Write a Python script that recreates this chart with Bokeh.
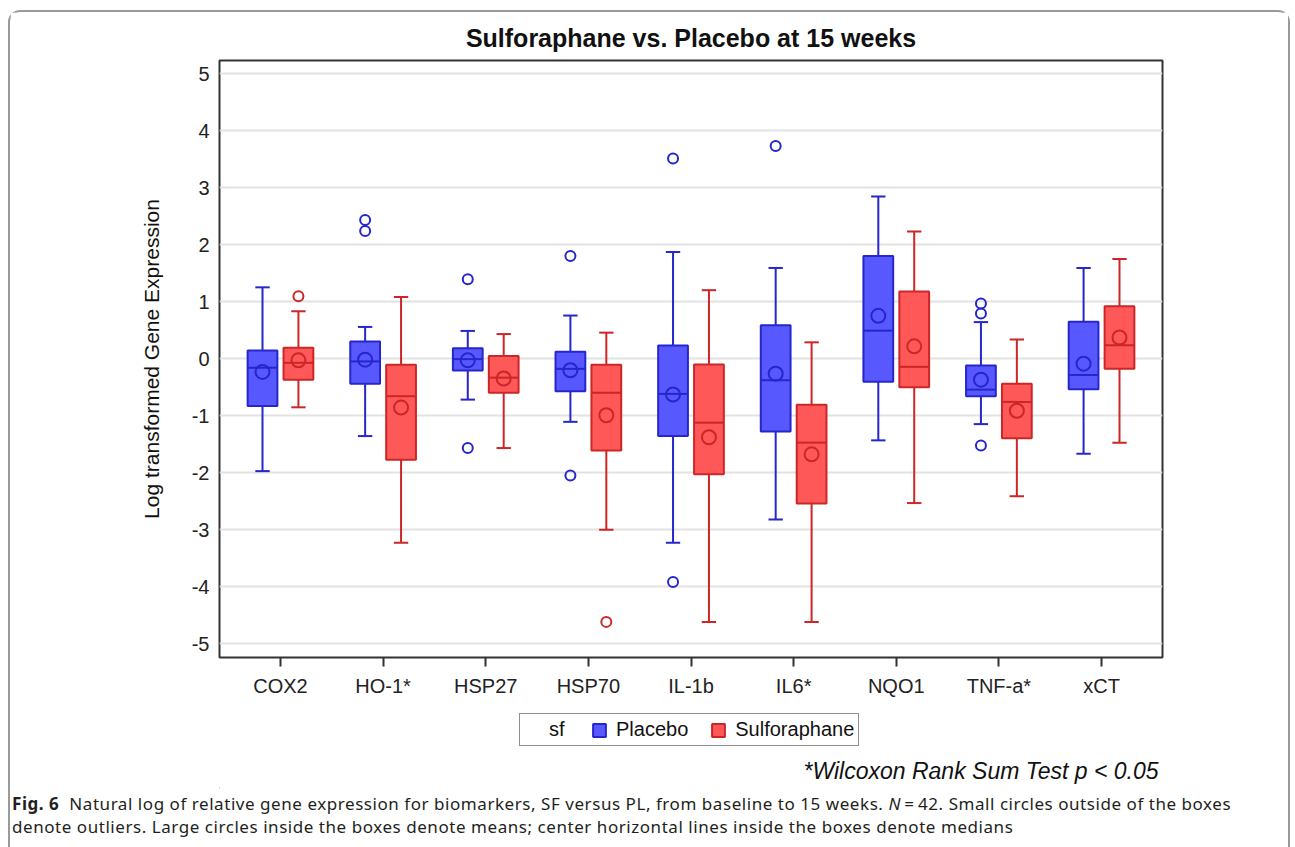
from bokeh.plotting import figure
from bokeh.models import (Range1d, FixedTicker, Legend, LegendItem, Label, Div,
                          ColumnDataSource)
from bokeh.layouts import column
from bokeh.embed import file_html
from bokeh.resources import INLINE

# ---------------- data ----------------
genes = ["COX2", "HO-1*", "HSP27", "HSP70", "IL-1b", "IL6*", "NQO1", "TNF-a*", "xCT"]
groups = ["Placebo", "Sulforaphane"]

pl_lo   = [-1.975, -1.36, -0.72, -1.11, -3.23, -2.825, -1.435, -1.15, -1.67]
pl_q1   = [-0.83, -0.44, -0.21, -0.575, -1.36, -1.28, -0.405, -0.66, -0.54]
pl_med  = [-0.16, -0.05, -0.01, -0.18, -0.62, -0.38, 0.49, -0.545, -0.29]
pl_q3   = [0.14, 0.30, 0.18, 0.12, 0.23, 0.585, 1.80, -0.12, 0.645]
pl_hi   = [1.25, 0.555, 0.485, 0.755, 1.87, 1.59, 2.845, 0.64, 1.59]
pl_mean = [-0.235, -0.02, -0.03, -0.205, -0.63, -0.265, 0.75, -0.37, -0.09]

sf_lo   = [-0.855, -3.23, -1.57, -3.005, -4.62, -4.62, -2.535, -2.415, -1.475]
sf_q1   = [-0.37, -1.775, -0.60, -1.615, -2.03, -2.545, -0.505, -1.40, -0.18]
sf_med  = [-0.075, -0.66, -0.335, -0.60, -1.125, -1.475, -0.145, -0.76, 0.235]
sf_q3   = [0.19, -0.11, 0.045, -0.11, -0.105, -0.81, 1.175, -0.44, 0.92]
sf_hi   = [0.83, 1.08, 0.43, 0.455, 1.20, 0.285, 2.23, 0.335, 1.745]
sf_mean = [-0.03, -0.86, -0.35, -0.995, -1.38, -1.68, 0.215, -0.915, 0.37]

pl_out_gene = ["HO-1*", "HO-1*", "HSP27", "HSP27", "HSP70", "HSP70",
               "IL-1b", "IL-1b", "IL6*", "TNF-a*", "TNF-a*", "TNF-a*"]
pl_out_val  = [2.43, 2.24, 1.39, -1.57, 1.80, -2.05, 3.51, -3.92, 3.73, 0.965, 0.79, -1.525]
sf_out_gene = ["COX2", "HSP70"]
sf_out_val  = [1.095, -4.62]

y_ticks = [-5, -4, -3, -2, -1, 0, 1, 2, 3, 4, 5]

title_text = "Sulforaphane vs. Placebo at 15 weeks"
y_label = "Log transformed Gene Expression"
legend_title = "sf"
footnote = "*Wilcoxon Rank Sum Test p < 0.05"

# ---------------- styling ----------------
FONT = "Liberation Sans"
fills = {"Placebo": "#5858FF", "Sulforaphane": "#FF5858"}
lines = {"Placebo": "#2626CC", "Sulforaphane": "#CC2626"}
offsets = {"Placebo": -0.175, "Sulforaphane": 0.175}
BOX_W = 0.29
CAP_W = 0.14

fig = figure(frame_width=943, frame_height=597, output_backend="svg", toolbar_location=None,
             x_range=Range1d(0.406, 9.594), y_range=Range1d(-5.245, 5.23),
             min_border_left=209, min_border_right=126, min_border_top=48,
             min_border_bottom=52, background_fill_color="white",
             border_fill_color="white")
fig.outline_line_color = "#333333"
fig.outline_line_width = 2

fig.title.text = title_text
fig.title.align = "center"
fig.title.text_font = FONT
fig.title.text_font_size = "25px"
fig.title.text_font_style = "bold"
fig.title.text_color = "#111111"
fig.title.standoff = 18

fig.xgrid.grid_line_color = None
fig.ygrid.grid_line_color = "#E2E2E2"
fig.ygrid.grid_line_width = 2

fig.xaxis.ticker = FixedTicker(ticks=[i + 1 for i in range(len(genes))])
fig.xaxis.major_label_overrides = {i + 1: g for i, g in enumerate(genes)}
fig.yaxis.ticker = FixedTicker(ticks=y_ticks)
fig.yaxis.major_label_overrides = {t: str(t) for t in y_ticks}

for ax in (fig.xaxis, fig.yaxis):
    ax.axis_line_color = None
    ax.minor_tick_line_color = None
    ax.major_tick_in = 0
    ax.major_label_text_font = FONT
    ax.major_label_text_font_size = "20px"
    ax.major_label_text_color = "#222222"
    ax.major_tick_line_color = "#333333"
    ax.major_tick_line_width = 2
fig.xaxis.major_tick_out = 9
fig.xaxis.major_label_standoff = 8
fig.yaxis.major_tick_out = 0
fig.yaxis.major_label_standoff = 10
fig.yaxis.axis_label = y_label
fig.yaxis.axis_label_text_font = FONT
fig.yaxis.axis_label_text_font_size = "21px"
fig.yaxis.axis_label_text_font_style = "normal"
fig.yaxis.axis_label_text_color = "#111111"
fig.yaxis.axis_label_standoff = 26

stats = {
    "Placebo": (pl_lo, pl_q1, pl_med, pl_q3, pl_hi, pl_mean, pl_out_gene, pl_out_val),
    "Sulforaphane": (sf_lo, sf_q1, sf_med, sf_q3, sf_hi, sf_mean, sf_out_gene, sf_out_val),
}

for grp in groups:
    lo, q1, med, q3, hi, mean, og, ov = stats[grp]
    xs = [i + 1 + offsets[grp] for i in range(len(genes))]
    src = ColumnDataSource(dict(x=xs, lo=lo, q1=q1, med=med, q3=q3, hi=hi, mean=mean,
                                xl=[x - BOX_W / 2 for x in xs], xr=[x + BOX_W / 2 for x in xs],
                                cl=[x - CAP_W / 2 for x in xs], cr=[x + CAP_W / 2 for x in xs]))
    lc, fc = lines[grp], fills[grp]
    fig.segment(x0="x", y0="q3", x1="x", y1="hi", source=src, line_color=lc, line_width=2)
    fig.segment(x0="x", y0="q1", x1="x", y1="lo", source=src, line_color=lc, line_width=2)
    fig.segment(x0="cl", y0="hi", x1="cr", y1="hi", source=src, line_color=lc, line_width=2)
    fig.segment(x0="cl", y0="lo", x1="cr", y1="lo", source=src, line_color=lc, line_width=2)
    fig.vbar(x="x", width=BOX_W, bottom="q1", top="q3", source=src,
             fill_color=fc, line_color=lc, line_width=2)
    fig.segment(x0="xl", y0="med", x1="xr", y1="med", source=src, line_color=lc, line_width=2)
    fig.scatter(x="x", y="mean", source=src, marker="circle", size=14,
                fill_color=None, line_color=lc, line_width=2)
    osrc = ColumnDataSource(dict(x=[genes.index(g) + 1 + offsets[grp] for g in og], y=ov))
    fig.scatter(x="x", y="y", source=osrc, marker="circle", size=10,
                fill_color=None, line_color=lc, line_width=2)

# ---------------- legend + footnote strip (frame aligned with the chart's frame) ----------------
LW, LH = 1278, 79
leg_fig = figure(width=LW, height=LH, output_backend="svg", toolbar_location=None,
                 x_range=Range1d(0, 1), y_range=Range1d(0, 1),
                 x_axis_type=None, y_axis_type=None, min_border=0,
                 background_fill_color="white", border_fill_color="white")
leg_fig.outline_line_color = None
leg_fig.xgrid.visible = False
leg_fig.ygrid.visible = False

# swatch renderers: a single point placed outside the visible range so only the legend glyph shows
dummy = leg_fig.scatter(x=[-10], y=[-10], marker="square", size=1, fill_alpha=0, line_alpha=0)
swatches = {g: leg_fig.vbar(x=[-10], top=[-10], bottom=[-11], width=0.1, fill_color=fills[g],
                            line_color=lines[g], line_width=2) for g in groups}

legend = Legend(items=[LegendItem(label=legend_title, renderers=[dummy])] +
                      [LegendItem(label=g, renderers=[swatches[g]]) for g in groups],
                orientation="horizontal", location=(300, 42))
legend.label_text_font = FONT
legend.label_text_font_size = "20px"
legend.label_text_color = "#111111"
legend.glyph_width = 16
legend.glyph_height = 16
legend.label_standoff = 9
legend.spacing = 22
legend.padding = 4
legend.margin = 0
legend.border_line_color = "#222222"
legend.border_line_width = 1.5
legend.background_fill_color = "white"
leg_fig.add_layout(legend, "center")

leg_fig.add_layout(Label(x=939, y=18, x_units="screen", y_units="screen", text=footnote,
                         text_font=FONT, text_font_size="23px", text_font_style="italic",
                         text_color="#111111", text_align="right", text_baseline="middle"))

caption = Div(
    text=("<div style=\"font-family:'Noto Sans';font-size:17px;letter-spacing:0.55px;"
          "line-height:23px;white-space:nowrap;color:#231F20;padding-left:2px;padding-top:4px;\">"
          "<b>Fig. 6</b>&nbsp; Natural log of relative gene expression for biomarkers, SF versus PL, "
          "from baseline to 15 weeks. <i>N</i>&#8201;=&#8201;42. Small circles outside of the boxes<br>"
          "denote outliers. Large circles inside the boxes denote means; center horizontal "
          "lines inside the boxes denote medians</div>"),
    width=1278, height=90, margin=0)

p = column(fig, leg_fig, caption, margin=(10, 0, 0, 8), spacing=0,
           styles={"border": "2px solid #9A9A9A", "border-radius": "12px",
                   "background-color": "white"})

open("out.html", "w").write(file_html(p, INLINE))
